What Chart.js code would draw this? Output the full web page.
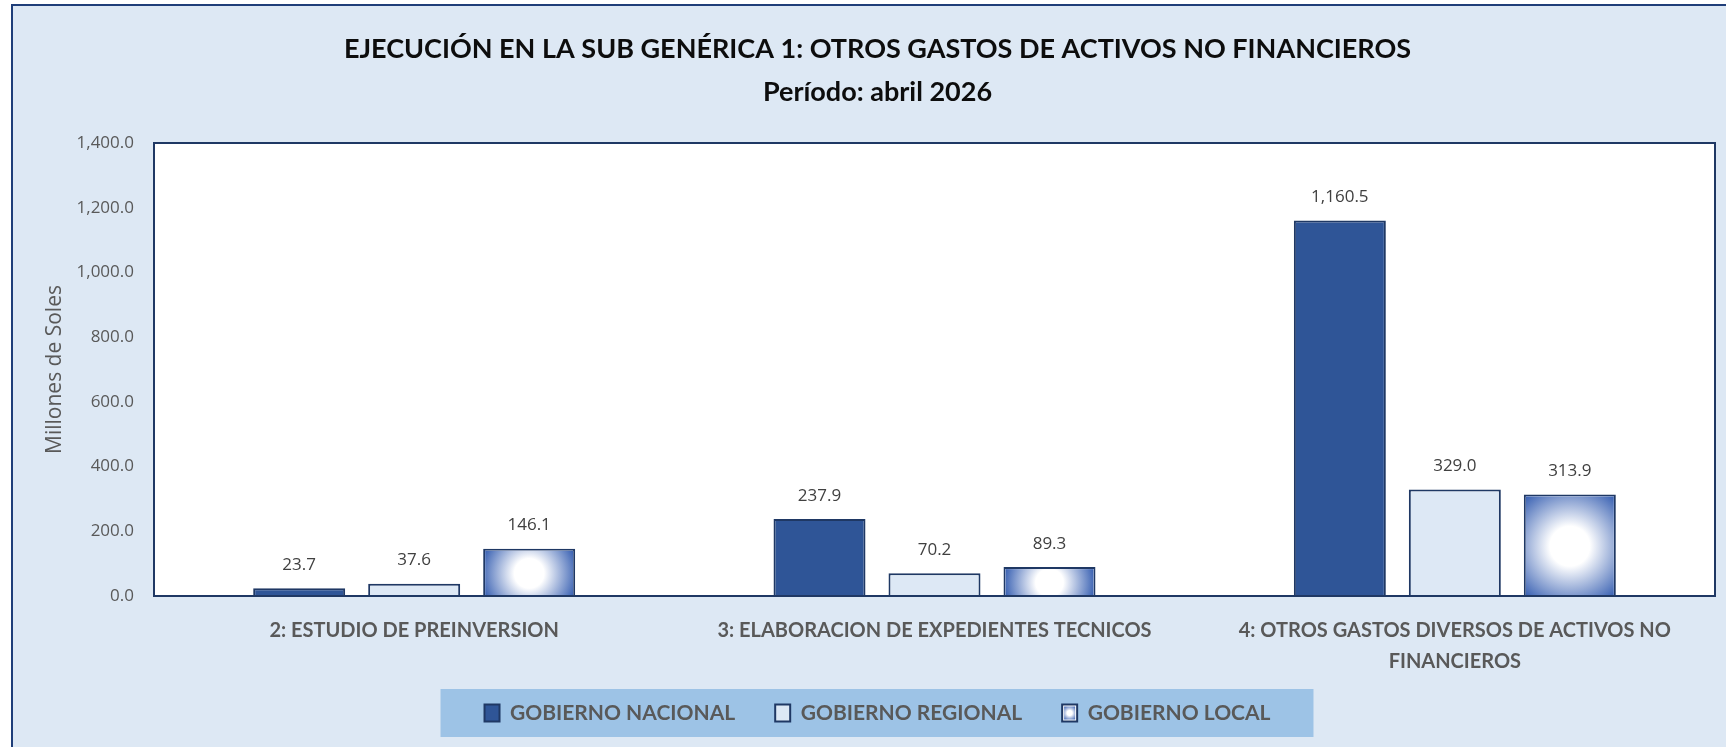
<!DOCTYPE html>
<html>
<head>
<meta charset="utf-8">
<script src="https://cdn.jsdelivr.net/npm/chart.js@4.4.1/dist/chart.umd.min.js"></script>
<style>
  html, body { margin: 0; padding: 0; background: #ffffff; overflow: hidden; }
  #wrap { width: 1726px; height: 747px; }
</style>
</head>
<body>
<div id="wrap"><canvas id="subGenericaChart"></canvas></div>
<script>
// Datos (millones de soles)
var categorias = [
    '2: ESTUDIO DE PREINVERSION',
    '3: ELABORACION DE EXPEDIENTES TECNICOS',
    ['4: OTROS GASTOS DIVERSOS DE ACTIVOS NO', 'FINANCIEROS']
];
var gobiernoNacional = [23.7, 237.9, 1160.5];
var gobiernoRegional = [37.6, 70.2, 329.0];
var gobiernoLocal = [146.1, 89.3, 313.9];
var ticksY = [0, 200, 400, 600, 800, 1000, 1200, 1400];

var AZUL_OSCURO = '#1f3864';
var FONDO = '#dde8f4';

function formato(v) {
    return v.toLocaleString('en-US', { minimumFractionDigits: 1, maximumFractionDigits: 1 });
}

// degradado radial del centro hacia los bordes (barras de gobierno local)
function degradado(ctx, x, y, w, h) {
    var cx = x + w / 2, cy = y + h / 2;
    var r = Math.sqrt(w * w + h * h) / 2;
    var g = ctx.createRadialGradient(cx, cy, 0, cx, cy, r);
    g.addColorStop(0, '#ffffff');
    g.addColorStop(0.3, '#ffffff');
    g.addColorStop(1, '#3860b2');
    return g;
}

var fondoPlugin = {
    id: 'fondo',
    afterLayout: function (chart) {
        // deja espacio para la segunda linea de la etiqueta del eje x
        chart.scales.x.bottom += 30;
    },
    beforeDraw: function (chart) {
        var ctx = chart.ctx, a = chart.chartArea;
        ctx.save();
        ctx.fillStyle = '#ffffff';
        ctx.fillRect(0, 0, chart.width, chart.height);
        ctx.fillStyle = FONDO;
        ctx.fillRect(12, 5, chart.width - 12, chart.height - 5);
        ctx.strokeStyle = '#1f3e79';
        ctx.lineWidth = 2;
        ctx.beginPath();
        ctx.moveTo(12, chart.height);
        ctx.lineTo(12, 5);
        ctx.lineTo(chart.width, 5);
        ctx.stroke();
        // area de trazado
        ctx.fillStyle = '#ffffff';
        ctx.fillRect(a.left, a.top, a.right - a.left, a.bottom - a.top);
        // caja de la leyenda
        var hb = chart.legend.legendHitBoxes;
        if (hb && hb.length) {
            var first = hb[0], last = hb[hb.length - 1];
            var cy = first.top + first.height / 2;
            ctx.fillStyle = '#9dc3e6';
            ctx.fillRect(first.left - 44, cy - 24, last.left + last.width + 43 - (first.left - 44), 48);
        }
        ctx.restore();
    },
    afterDatasetDraw: function (chart, args) {
        if (args.index !== 2) return;
        var ctx = chart.ctx, bw = 2;
        ctx.save();
        args.meta.data.forEach(function (el) {
            var p = el.getProps(['x', 'y', 'base', 'width'], true);
            var x = p.x - p.width / 2 + bw, y = p.y + bw;
            var w = p.width - 2 * bw, h = p.base - p.y - bw;
            ctx.fillStyle = degradado(ctx, x, y, w, h);
            ctx.fillRect(x, y, w, h);
        });
        ctx.restore();
    },
    afterDatasetsDraw: function (chart) {
        var ctx = chart.ctx, a = chart.chartArea;
        ctx.save();
        ctx.strokeStyle = AZUL_OSCURO;
        ctx.lineWidth = 2;
        ctx.strokeRect(a.left, a.top, a.right - a.left, a.bottom - a.top);
        // etiquetas de valor
        ctx.fillStyle = '#404040';
        ctx.font = '17px "Open Sans"';
        ctx.textAlign = 'center';
        ctx.textBaseline = 'alphabetic';
        chart.data.datasets.forEach(function (ds, i) {
            chart.getDatasetMeta(i).data.forEach(function (el, j) {
                var p = el.getProps(['x', 'y'], true);
                ctx.fillText(formato(ds.data[j]), p.x, p.y - 18.5);
            });
        });
        ctx.restore();
    },
    afterDraw: function (chart) {
        // muestra de la leyenda para gobierno local
        var hb = chart.legend.legendHitBoxes;
        if (!hb || hb.length < 3) return;
        var ctx = chart.ctx;
        var x = hb[2].left + 2, y = hb[2].top + 2 + 2;
        ctx.save();
        ctx.fillStyle = degradado(ctx, x, y, 11, 13);
        ctx.fillRect(x, y, 11, 13);
        ctx.restore();
    }
};

var ctx = document.getElementById('subGenericaChart').getContext('2d');
var chart = new Chart(ctx, {
    type: 'bar',
    data: {
        labels: categorias,
        datasets: [{
            label: 'GOBIERNO NACIONAL',
            data: gobiernoNacional,
            backgroundColor: '#2f5597',
            borderColor: AZUL_OSCURO,
            borderWidth: 2
        }, {
            label: 'GOBIERNO REGIONAL',
            data: gobiernoRegional,
            backgroundColor: '#dde8f5',
            borderColor: AZUL_OSCURO,
            borderWidth: 2
        }, {
            label: 'GOBIERNO LOCAL',
            data: gobiernoLocal,
            backgroundColor: '#ffffff',
            borderColor: AZUL_OSCURO,
            borderWidth: 2
        }]
    },
    options: {
        responsive: true,
        maintainAspectRatio: false,
        animation: false,
        categoryPercentage: 0.663,
        barPercentage: 0.8,
        layout: {
            padding: { left: 40, right: 11, top: 5, bottom: 13.5 }
        },
        plugins: {
            title: {
                display: true,
                text: ['EJECUCIÓN EN LA SUB GENÉRICA 1: OTROS GASTOS DE ACTIVOS NO FINANCIEROS', 'Período: abril 2026'],
                color: '#0d0d0d',
                font: { family: 'Lato', size: 27, weight: 'bold', lineHeight: 43 / 27 },
                padding: { top: 23, bottom: 29 }
            },
            legend: {
                position: 'bottom',
                labels: {
                    boxWidth: 15,
                    boxHeight: 17,
                    padding: 40,
                    color: '#595959',
                    font: { family: 'Lato', size: 21, weight: 'bold' }
                }
            },
            tooltip: { enabled: false }
        },
        scales: {
            x: {
                grid: { display: false, drawTicks: false },
                border: { display: true, color: AZUL_OSCURO, width: 2 },
                ticks: {
                    color: '#595959',
                    padding: 19,
                    maxRotation: 0,
                    autoSkip: false,
                    font: { family: 'Lato', size: 20, weight: 'bold', lineHeight: 1.55 }
                },
                afterFit: function (scale) { scale.height = 66.5; }
            },
            y: {
                min: 0,
                max: 1400,
                grid: { display: false, drawTicks: false },
                border: { display: true, color: AZUL_OSCURO, width: 2 },
                afterBuildTicks: function (scale) {
                    scale.ticks = ticksY.map(function (v) { return { value: v }; });
                },
                ticks: {
                    color: '#595959',
                    padding: 20,
                    font: { family: 'Open Sans', size: 17 },
                    callback: function (v) { return formato(v); }
                },
                title: {
                    display: true,
                    text: 'Millones de Soles',
                    color: '#595959',
                    padding: { top: 2, bottom: 0 },
                    font: { family: 'Open Sans', size: 21 }
                },
                afterFit: function (scale) { scale.width = 114; }
            }
        }
    },
    plugins: [fondoPlugin]
});
</script>
</body>
</html>
